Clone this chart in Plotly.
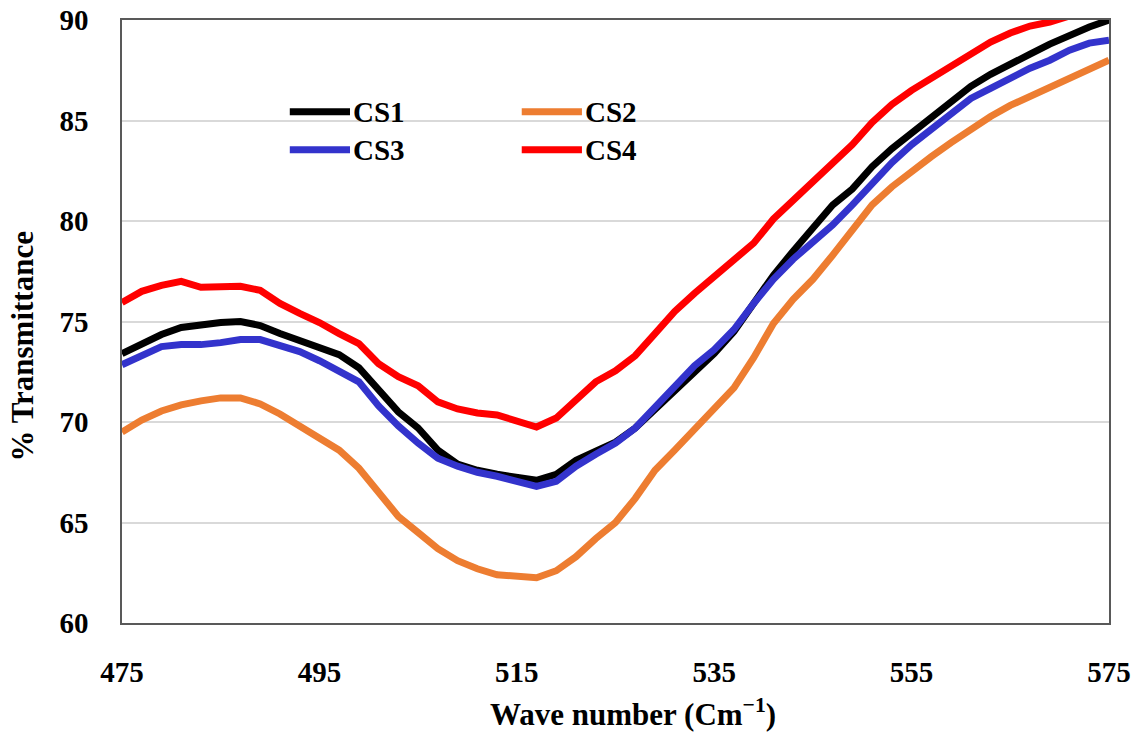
import plotly.graph_objects as go

# Wave numbers (cm^-1), sampled every 2 units
wave_number = list(range(475, 576, 2))

cs1 = [73.4, 73.9, 74.35, 74.7, 74.85, 74.95, 75.0, 74.8, 74.4, 74.05,
       73.75, 73.35, 72.7, 71.6, 70.5, 69.7, 68.6, 67.9, 67.6, 67.4,
       67.25, 67.1, 67.4, 68.1, 68.55, 69.0, 69.7, 70.6, 71.6, 72.5,
       73.4, 74.5, 75.9, 77.3, 78.5, 79.7, 80.8, 81.6, 82.7, 83.6,
       84.4, 85.2, 86.0, 86.7, 87.3, 87.85, 88.3, 88.8, 89.25, 89.65, 90.0]

cs2 = [69.5, 70.1, 70.55, 70.85, 71.05, 71.2, 71.2, 70.9, 70.4, 69.8,
       69.2, 68.6, 67.7, 66.5, 65.3, 64.5, 63.7, 63.1, 62.7, 62.4,
       62.35, 62.25, 62.6, 63.3, 64.2, 65.0, 66.2, 67.6, 68.6, 69.6,
       70.6, 71.7, 73.2, 74.9, 76.1, 77.1, 78.3, 79.6, 80.8, 81.7,
       82.5, 83.2, 83.9, 84.6, 85.2, 85.75, 86.2, 86.65, 87.15, 87.6, 88.0]

cs3 = [72.85, 73.3, 73.75, 73.85, 73.85, 73.95, 74.1, 74.1, 73.8, 73.5,
       73.05, 72.5, 72.0, 70.8, 69.8, 68.95, 68.2, 67.8, 67.5, 67.3,
       67.05, 66.8, 67.05, 67.8, 68.4, 68.95, 69.7, 70.7, 71.8, 72.8,
       73.6, 74.6, 75.9, 77.1, 78.1, 78.9, 79.8, 80.8, 81.9, 82.9,
       83.8, 84.6, 85.4, 86.1, 86.6, 87.15, 87.6, 88.0, 88.5, 88.85, 89.0]

cs4 = [75.95, 76.5, 76.8, 77.0, 76.7, 76.7, 76.75, 76.55, 75.9, 75.4,
       74.95, 74.4, 73.9, 72.9, 72.25, 71.8, 71.0, 70.65, 70.45, 70.35,
       70.05, 69.75, 70.2, 71.1, 72.0, 72.55, 73.3, 74.4, 75.5, 76.4,
       77.2, 78.0, 78.9, 80.1, 81.0, 81.9, 82.8, 83.8, 84.9, 85.8,
       86.5, 87.1, 87.8, 88.4, 88.9, 89.35, 89.7, 89.9, 90.2, 90.5, 90.8]

x_ticks = [475, 495, 515, 535, 555, 575]
y_ticks = [60, 65, 70, 75, 80, 85, 90]

FONT = "Liberation Serif, Times New Roman, DejaVu Serif, serif"
series = [
    ("CS1", cs1, "#000000"),
    ("CS2", cs2, "#ED7D31"),
    ("CS3", cs3, "#3333CC"),
    ("CS4", cs4, "#FF0000"),
]

# Legend key positions (paper coordinates): two columns, two rows
key_x = [0.170, 0.405, 0.170, 0.405]
key_y = [0.848, 0.848, 0.785, 0.785]
KEY_LEN = 0.061

fig = go.Figure()
shapes, annotations = [], []
for (name, values, color), kx, ky in zip(series, key_x, key_y):
    fig.add_trace(go.Scatter(
        x=wave_number, y=values, mode="lines", name=name,
        line=dict(color=color, width=7), showlegend=False,
    ))
    shapes.append(dict(type="line", xref="paper", yref="paper",
                       x0=kx, x1=kx + KEY_LEN, y0=ky, y1=ky,
                       line=dict(color=color, width=7)))
    annotations.append(dict(text=name, xref="paper", yref="paper",
                            x=kx + KEY_LEN + 0.001, y=ky, xanchor="left",
                            yanchor="middle", showarrow=False,
                            font=dict(family=FONT, size=29, weight="bold")))

annotations += [
    dict(text="Wave number (Cm<sup>\u22121</sup>)", xref="paper", yref="paper",
         x=0.518, y=-0.148, xanchor="center", yanchor="middle", showarrow=False,
         font=dict(family=FONT, size=31, weight="bold")),
    dict(text="% Transmittance", xref="paper", yref="paper",
         x=-0.101, y=0.459, xanchor="center", yanchor="middle", showarrow=False,
         textangle=-90, font=dict(family=FONT, size=31, weight="bold")),
]

fig.update_layout(
    width=1140, height=733,
    margin=dict(l=122, r=31, t=20, b=110, autoexpand=False),
    paper_bgcolor="white", plot_bgcolor="white",
    font=dict(family=FONT, size=29, color="#000000", weight="bold"),
    showlegend=False,
    shapes=shapes,
    annotations=annotations,
    xaxis=dict(
        range=[475, 575], tickvals=x_ticks, showgrid=False, automargin=False,
        showline=True, linecolor="#595959", linewidth=1.5, mirror=True,
        ticks="outside", ticklen=22, tickcolor="rgba(0,0,0,0)",
        tickfont=dict(family=FONT, size=29, weight="bold"), zeroline=False,
    ),
    yaxis=dict(
        range=[60, 90], tickvals=y_ticks, showgrid=True, automargin=False,
        gridcolor="#D9D9D9", gridwidth=1.5,
        showline=True, linecolor="#595959", linewidth=1.5, mirror=True,
        ticks="outside", ticklen=26, tickcolor="rgba(0,0,0,0)",
        tickfont=dict(family=FONT, size=29, weight="bold"), zeroline=False,
    ),
)

fig.write_html("out.html")
